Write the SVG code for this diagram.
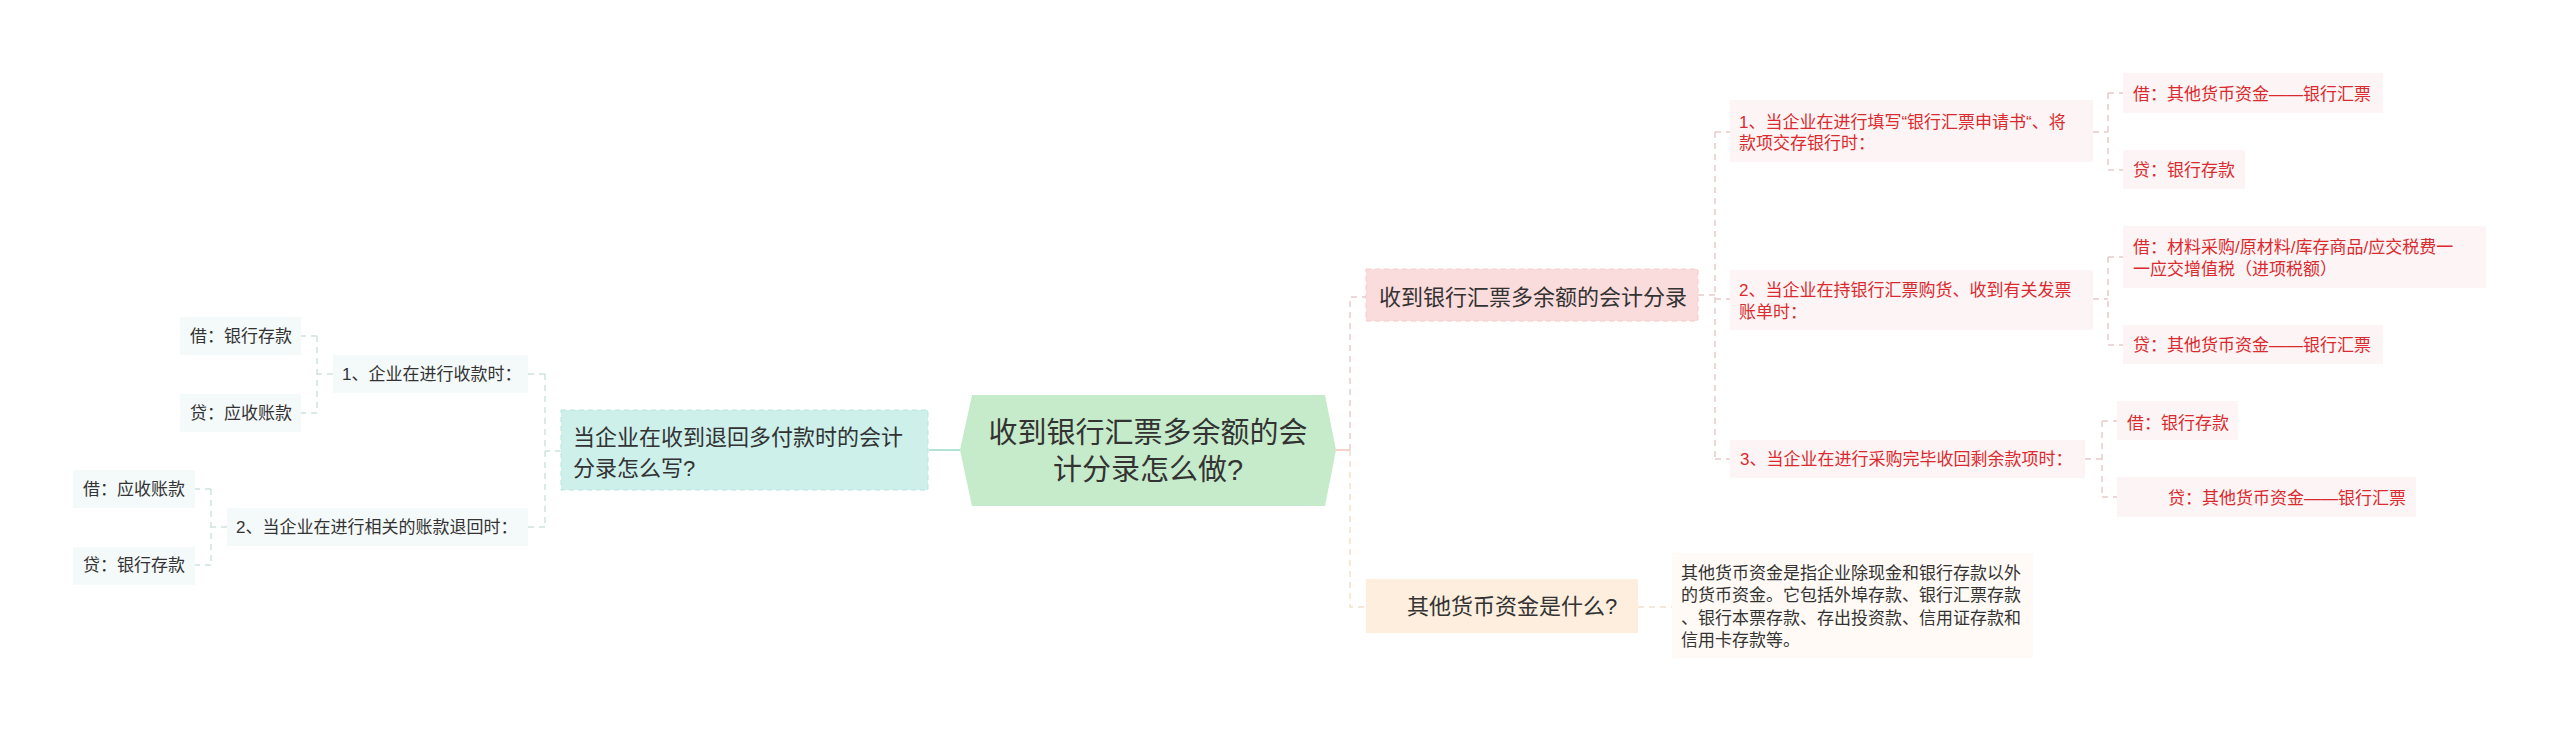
<svg xmlns="http://www.w3.org/2000/svg" width="2560" height="733" viewBox="0 0 2560 733">
<style>
text{font-family:"Liberation Sans","Noto Sans CJK SC",sans-serif;fill:#333;}
.t29{font-size:29px;}
.t22{font-size:22px;}
.t17{font-size:17px;}
.red{fill:#db2a2f;}
.cl{fill:none;stroke:#cfe2df;stroke-width:1.5;stroke-dasharray:6 5;}
.cp{fill:none;stroke:#e8cccc;stroke-width:1.5;stroke-dasharray:6 5;}
.cb{fill:none;stroke:#f3e0cc;stroke-width:1.5;stroke-dasharray:6 5;}
.leafL{fill:#f4f9f9;}
.leafR{fill:#fdf5f5;}
</style>
<rect width="2560" height="733" fill="#ffffff"/>
<g id="connectors">
<path d="M960,450 H929" stroke="#b3e2db" stroke-width="2" fill="none"/>
<path class="cl" d="M561,451 H545 M545,374 V527 M545,374 H528 M545,527 H528"/>
<path class="cl" d="M333,374 H317 M317,336 V413 M317,336 H301 M317,413 H301"/>
<path class="cl" d="M227,527 H211 M211,489 V565 M211,489 H195 M211,565 H195"/>
<path d="M1336,450 H1350" stroke="#f6d3c8" stroke-width="2" fill="none"/>
<path class="cp" d="M1350,450 V297 H1366"/>
<path class="cb" d="M1350,450 V607 H1366"/>
<path class="cp" d="M1698,295 H1715 M1715,132 V459 M1715,132 H1730 M1715,299 H1730 M1715,459 H1730"/>
<path class="cp" d="M2093,132 H2108 M2108,93 V170 M2108,93 H2123 M2108,170 H2123"/>
<path class="cp" d="M2093,299 H2108 M2108,257 V345 M2108,257 H2123 M2108,345 H2123"/>
<path class="cp" d="M2085,459 H2102 M2102,421 V497 M2102,421 H2117 M2102,497 H2117"/>
<path class="cb" d="M1638,607 H1672"/>
</g>
<g id="root">
<polygon points="960,450 972,395 1325,395 1336,450 1325,506 972,506" fill="#c6ebca"/>
<text class="t29" x="1148" y="443" text-anchor="middle">收到银行汇票多余额的会</text>
<text class="t29" x="1148" y="480" text-anchor="middle">计分录怎么做?</text>
</g>
<g id="left-main">
<rect x="561" y="410" width="367" height="80" fill="#cdf0eb" stroke="#b9e2dc" stroke-dasharray="5 4"/>
<text class="t22" x="573" y="445">当企业在收到退回多付款时的会计</text>
<text class="t22" x="573" y="476">分录怎么写?</text>
</g>
<g id="left-1">
<rect class="leafL" x="333" y="355" width="195" height="38"/>
<text class="t17" x="342" y="380">1、企业在进行收款时：</text>
</g>
<g id="left-1-debit">
<rect class="leafL" x="180" y="317" width="121" height="38"/>
<text class="t17" x="190" y="342">借：银行存款</text>
</g>
<g id="left-1-credit">
<rect class="leafL" x="180" y="394" width="121" height="38"/>
<text class="t17" x="190" y="419">贷：应收账款</text>
</g>
<g id="left-2">
<rect class="leafL" x="227" y="508" width="301" height="38"/>
<text class="t17" x="236" y="533">2、当企业在进行相关的账款退回时：</text>
</g>
<g id="left-2-debit">
<rect class="leafL" x="73" y="470" width="122" height="38"/>
<text class="t17" x="83" y="495">借：应收账款</text>
</g>
<g id="left-2-credit">
<rect class="leafL" x="73" y="547" width="122" height="38"/>
<text class="t17" x="83" y="571">贷：银行存款</text>
</g>
<g id="right-main">
<rect x="1366" y="269" width="332" height="52" fill="#fbdcdc" stroke="#f4c9c9" stroke-dasharray="5 4"/>
<text class="t22" x="1379" y="305">收到银行汇票多余额的会计分录</text>
</g>
<g id="right-1">
<rect class="leafR" x="1730" y="100" width="363" height="62"/>
<text class="t17 red" x="1739" y="128">1、当企业在进行填写“银行汇票申请书“、将</text>
<text class="t17 red" x="1739" y="149">款项交存银行时：</text>
</g>
<g id="right-1-debit">
<rect class="leafR" x="2123" y="73" width="260" height="40"/>
<text class="t17 red" x="2133" y="100">借：其他货币资金——银行汇票</text>
</g>
<g id="right-1-credit">
<rect class="leafR" x="2123" y="150" width="122" height="39"/>
<text class="t17 red" x="2133" y="176">贷：银行存款</text>
</g>
<g id="right-2">
<rect class="leafR" x="1730" y="270" width="363" height="60"/>
<text class="t17 red" x="1739" y="296">2、当企业在持银行汇票购货、收到有关发票</text>
<text class="t17 red" x="1739" y="318">账单时：</text>
</g>
<g id="right-2-debit">
<rect class="leafR" x="2123" y="226" width="363" height="62"/>
<text class="t17 red" x="2133" y="253">借：材料采购/原材料/库存商品/应交税费一</text>
<text class="t17 red" x="2133" y="275">一应交增值税（进项税额）</text>
</g>
<g id="right-2-credit">
<rect class="leafR" x="2123" y="325" width="260" height="39"/>
<text class="t17 red" x="2133" y="351">贷：其他货币资金——银行汇票</text>
</g>
<g id="right-3">
<rect class="leafR" x="1730" y="440" width="355" height="38"/>
<text class="t17 red" x="1740" y="465">3、当企业在进行采购完毕收回剩余款项时：</text>
</g>
<g id="right-3-debit">
<rect class="leafR" x="2117" y="401" width="121" height="39"/>
<text class="t17 red" x="2127" y="429">借：银行存款</text>
</g>
<g id="right-3-credit">
<rect class="leafR" x="2117" y="477" width="299" height="40"/>
<text class="t17 red" x="2168" y="504">贷：其他货币资金——银行汇票</text>
</g>
<g id="other-main">
<rect x="1366" y="579" width="272" height="54" fill="#fdeedd"/>
<text class="t22" x="1407" y="614">其他货币资金是什么?</text>
</g>
<g id="other-desc">
<rect x="1672" y="553" width="361" height="105" fill="#fffaf5"/>
<text class="t17" x="1681" y="579">其他货币资金是指企业除现金和银行存款以外</text>
<text class="t17" x="1681" y="601">的货币资金。它包括外埠存款、银行汇票存款</text>
<text class="t17" x="1681" y="624">、银行本票存款、存出投资款、信用证存款和</text>
<text class="t17" x="1681" y="646">信用卡存款等。</text>
</g>
</svg>
